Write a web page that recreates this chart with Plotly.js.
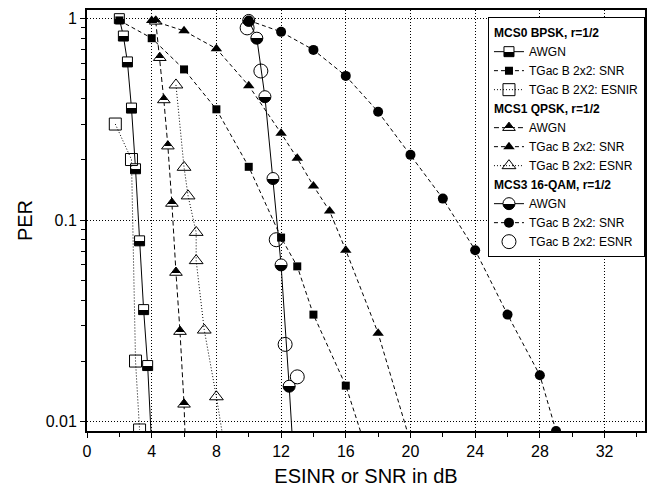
<!DOCTYPE html>
<html><head><meta charset="utf-8">
<script src="https://cdn.plot.ly/plotly-3.0.1.min.js"></script>
<style>html,body{margin:0;padding:0;background:#fff}</style>
</head><body>
<div id="chart" style="width:649px;height:496px"></div>
<script>
// ---- data ----
const groupTitles = ['MCS0 BPSK, r=1/2', 'MCS1 QPSK, r=1/2', 'MCS3 16-QAM, r=1/2'];
const names0 = ['AWGN', 'TGac B 2x2: SNR', 'TGac B 2X2: ESNIR'];
const names1 = ['AWGN', 'TGac B 2x2: SNR', 'TGac B 2x2: ESNR'];
const names3 = ['AWGN', 'TGac B 2x2: SNR', 'TGac B 2x2: ESNR'];

// MCS0 BPSK
const bpskAwgnX = [2, 2.25, 2.5, 2.75, 3, 3.25, 3.5, 3.75, 4];
const bpskAwgnY = [1.0, 0.82, 0.61, 0.36, 0.18, 0.079, 0.036, 0.019, 0.0075];
const bpskSnrX = [2, 4, 6, 8, 10, 12, 13, 14, 16, 18];
const bpskSnrY = [0.98, 0.80, 0.56, 0.355, 0.184, 0.082, 0.059, 0.034, 0.0151, 0.0048];
const bpskEsnX = [1.75, 2.75, 3, 3.25];
const bpskEsnY = [0.30, 0.20, 0.020, 0.0091];

// MCS1 QPSK
const qpskAwgnX = [4.25, 4.5, 4.75, 5, 5.25, 5.5, 5.75, 6, 6.25];
const qpskAwgnY = [0.97, 0.64, 0.395, 0.233, 0.121, 0.055, 0.028, 0.0122, 0.003];
const qpskSnrX = [4, 6, 8, 10, 12, 13, 14, 15, 16, 18, 20];
const qpskSnrY = [0.98, 0.87, 0.71, 0.465, 0.27, 0.203, 0.148, 0.111, 0.071, 0.0275, 0.0079];
const qpskEsnX = [5.5, 6, 6.25, 6.75, 6.75, 7.25, 8, 8.5];
const qpskEsnY = [0.469, 0.183, 0.132, 0.087, 0.063, 0.0285, 0.0133, 0.0075];

// MCS3 16-QAM
const qamAwgnX = [10, 10.5, 11, 11.5, 12, 12.5, 13];
const qamAwgnY = [0.98, 0.80, 0.41, 0.161, 0.060, 0.015, 0.0033];
const qamSnrX = [10, 12, 14, 16, 18, 20, 22, 24, 26, 28, 29];
const qamSnrY = [0.98, 0.86, 0.70, 0.52, 0.345, 0.211, 0.128, 0.071, 0.034, 0.017, 0.009];
const qamEsnX = [9.9, 10.75, 11.7, 12.25, 13];
const qamEsnY = [0.90, 0.55, 0.080, 0.0242, 0.0167];

// axis ticks
const xTickVals = [0, 4, 8, 12, 16, 20, 24, 28, 32];
const yTickVals = [0.01, 0.1, 1];
const yTickText = ['0.01', '0.1', '1'];
const yMinorVals = [0.02, 0.03, 0.04, 0.05, 0.06, 0.07, 0.08, 0.09, 0.2, 0.3, 0.4, 0.5, 0.6, 0.7, 0.8, 0.9];

// ---- styling ----
const FONT = 'Liberation Sans, Arial, Helvetica, sans-serif';
const SNRDASH = '4px,3px';
const DOT = '1px,2px';
const AWGN1DASH = '5px,3px';

function grp(i) {
  return {legendgroup: 'g' + i,
          legendgrouptitle: {text: groupTitles[i], font: {size: 12, family: FONT, weight: 'bold', color: '#000'}}};
}
function tr(x, y, name, g, opts) {
  return Object.assign({type: 'scatter', x: x, y: y, name: name}, grp(g), opts);
}

const data = [
  tr(bpskAwgnX, bpskAwgnY, names0[0], 0, {uid: 'half-sq', mode: 'lines+markers',
     line: {color: '#000', width: 1},
     marker: {symbol: 'square', size: 10, color: '#fff', gradient: {type: 'vertical', color: '#000'}, line: {color: '#000', width: 1}}}),
  tr(bpskSnrX, bpskSnrY, names0[1], 0, {mode: 'lines+markers',
     line: {color: '#000', width: 1, dash: SNRDASH},
     marker: {symbol: 'square', size: 8, color: '#000'}}),
  tr(bpskEsnX, bpskEsnY, names0[2], 0, {mode: 'lines+markers',
     line: {color: '#000', width: 1, dash: DOT},
     marker: {symbol: 'square-open', size: 12, color: '#000', line: {width: 1}}}),

  tr(qpskAwgnX, qpskAwgnY, names1[0], 1, {uid: 'half-tri', mode: 'lines+markers',
     line: {color: '#000', width: 1, dash: AWGN1DASH},
     marker: {symbol: 'triangle-up', size: 11, color: '#000', gradient: {type: 'vertical', color: '#fff'}, line: {color: '#000', width: 1}}}),
  tr(qpskSnrX, qpskSnrY, names1[1], 1, {mode: 'lines+markers',
     line: {color: '#000', width: 1, dash: SNRDASH},
     marker: {symbol: 'triangle-up', size: 10, color: '#000'}}),
  tr(qpskEsnX, qpskEsnY, names1[2], 1, {mode: 'lines+markers',
     line: {color: '#000', width: 1, dash: DOT},
     marker: {symbol: 'triangle-up-open', size: 12, color: '#000', line: {width: 1}}}),

  tr(qamAwgnX, qamAwgnY, names3[0], 2, {uid: 'half-circ', mode: 'lines+markers',
     line: {color: '#000', width: 1},
     marker: {symbol: 'circle', size: 12, color: '#fff', gradient: {type: 'vertical', color: '#000'}, line: {color: '#000', width: 1}}}),
  tr(qamSnrX, qamSnrY, names3[1], 2, {mode: 'lines+markers',
     line: {color: '#000', width: 1, dash: SNRDASH},
     marker: {symbol: 'circle', size: 10, color: '#000'}}),
  tr(qamEsnX, qamEsnY, names3[2], 2, {mode: 'markers',
     marker: {symbol: 'circle-open', size: 14, color: '#000', line: {width: 1}}})
];

const layout = {
  width: 649, height: 496,
  margin: {l: 87, r: 4, t: 10, b: 65},
  paper_bgcolor: '#fff', plot_bgcolor: '#fff',
  font: {family: FONT, color: '#000', size: 12},
  showlegend: true,
  legend: {x: 0.7186, y: 0.983, xanchor: 'left', yanchor: 'top',
           bgcolor: '#fff', bordercolor: '#000', borderwidth: 1,
           font: {size: 12, family: FONT, color: '#000'},
           tracegroupgap: 0, itemwidth: 30},
  xaxis: {range: [0, 34.5], tickmode: 'array', tickvals: xTickVals,
          ticks: 'outside', ticklen: 5, tickwidth: 1, tickcolor: '#000',
          showline: true, linewidth: 2, linecolor: '#000', mirror: true,
          showgrid: true, gridcolor: '#000', gridwidth: 1, griddash: DOT,
          zeroline: false,
          minor: {dtick: 2, tick0: 0, ticks: 'outside', ticklen: 4, tickcolor: '#000', showgrid: false},
          tickfont: {size: 16, family: FONT, color: '#000'},
          title: {text: 'ESINR or SNR in dB', font: {size: 20, family: FONT, color: '#000'}, standoff: 10}},
  yaxis: {type: 'log', range: [-2.046, 0.043], tickmode: 'array', tickvals: yTickVals, ticktext: yTickText,
          ticks: 'outside', ticklen: 5, tickwidth: 1, tickcolor: '#000',
          showline: true, linewidth: 2, linecolor: '#000', mirror: true,
          showgrid: true, gridcolor: '#000', gridwidth: 1, griddash: DOT,
          zeroline: false,
          minor: {tickmode: 'array', tickvals: yMinorVals, ticks: 'outside', ticklen: 4, tickcolor: '#000', showgrid: false},
          tickfont: {size: 16, family: FONT, color: '#000'},
          title: {text: 'PER', font: {size: 20, family: FONT, color: '#000'}, standoff: 8}}
};

Plotly.newPlot('chart', data, layout, {displayModeBar: false, staticPlot: true}).then(function (gd) {
  // make the vertical marker gradients a sharp two-colour split (half-filled symbols)
  const grads = gd.querySelectorAll('linearGradient');
  grads.forEach(function (g) {
    const stops = g.querySelectorAll('stop');
    if (stops.length !== 2) return;
    const f = g.id.indexOf('half-tri') >= 0 ? 30 : 50;
    const s0 = stops[0], s1 = stops[1];
    const a = s0.cloneNode(true); a.setAttribute('offset', f + '%');
    const b = s1.cloneNode(true); b.setAttribute('offset', f + '%');
    g.insertBefore(a, s1);
    g.insertBefore(b, s1);
  });
});
</script>
</body></html>
